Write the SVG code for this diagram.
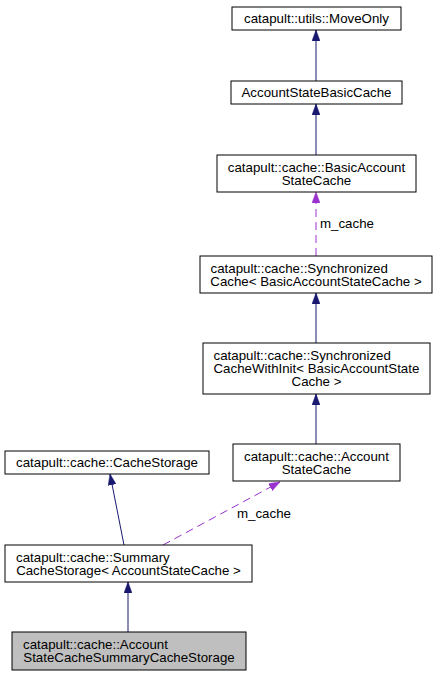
<svg xmlns="http://www.w3.org/2000/svg" width="439" height="676" viewBox="0 0 439 676">
<style>
.box{fill:#ffffff;stroke:#000000;stroke-width:1}
.cur{fill:#bfbfbf;stroke:#000000;stroke-width:1}
text{font-family:"Liberation Sans",Arial,sans-serif;font-size:13.3px;fill:#000000}
.c{text-anchor:middle}
.inh{stroke:#191970;stroke-width:1;fill:none;marker-end:url(#an)}
.use{stroke:#9a32cd;stroke-width:1;fill:none;stroke-dasharray:8,5;marker-end:url(#ap)}
</style>
<defs>
<marker id="an" markerUnits="userSpaceOnUse" markerWidth="11" markerHeight="8" refX="11" refY="4" orient="auto"><path d="M0,0 L11,4 L0,8 z" fill="#191970" stroke="#191970" stroke-width="0.5"/></marker>
<marker id="ap" markerUnits="userSpaceOnUse" markerWidth="11" markerHeight="8" refX="11" refY="4" orient="auto"><path d="M0,0 L11,4 L0,8 z" fill="#9a32cd" stroke="#9a32cd" stroke-width="0.5"/></marker>
</defs>
<g id="edges">
<line class="inh" x1="316" y1="81" x2="316" y2="30"/>
<line class="inh" x1="316" y1="155" x2="316" y2="104"/>
<line class="use" x1="316" y1="256" x2="316" y2="192"/>
<text x="320" y="228">m_cache</text>
<line class="inh" x1="316" y1="343" x2="316" y2="293"/>
<line class="inh" x1="316" y1="444" x2="316" y2="394"/>
<line class="inh" x1="124" y1="545" x2="110" y2="474"/>
<line class="use" x1="163" y1="545" x2="280" y2="482"/>
<text x="237" y="518">m_cache</text>
<line class="inh" x1="128" y1="632" x2="128" y2="582"/>
</g>
<g id="n_moveonly">
<rect class="box" x="232" y="7" width="169" height="23"/>
<text class="c" x="316.5" y="23">catapult::utils::MoveOnly</text>
</g>
<g id="n_basiccache">
<rect class="box" x="231" y="81" width="171" height="23"/>
<text class="c" x="316.5" y="97">AccountStateBasicCache</text>
</g>
<g id="n_basicaccountstatecache">
<rect class="box" x="217" y="155" width="199" height="37"/>
<text class="c" x="316.5" y="171.5">catapult::cache::BasicAccount</text>
<text class="c" x="316.5" y="184.5">StateCache</text>
</g>
<g id="n_synccache">
<rect class="box" x="200" y="256" width="232" height="37"/>
<text x="210.5" y="272.5">catapult::cache::Synchronized</text>
<text class="c" x="316" y="285.5">Cache&lt; BasicAccountStateCache &gt;</text>
</g>
<g id="n_syncinit">
<rect class="box" x="203" y="343" width="227" height="51"/>
<text x="213.5" y="359.5">catapult::cache::Synchronized</text>
<text x="213.5" y="372.5">CacheWithInit&lt; BasicAccountState</text>
<text class="c" x="316.5" y="385.5">Cache &gt;</text>
</g>
<g id="n_accountstatecache">
<rect class="box" x="233" y="444" width="167" height="37"/>
<text class="c" x="316.5" y="460.5">catapult::cache::Account</text>
<text class="c" x="316.5" y="473.5">StateCache</text>
</g>
<g id="n_cachestorage">
<rect class="box" x="5" y="451" width="204" height="23"/>
<text class="c" x="107" y="467">catapult::cache::CacheStorage</text>
</g>
<g id="n_summary">
<rect class="box" x="5" y="545" width="247" height="37"/>
<text x="16" y="561.5">catapult::cache::Summary</text>
<text class="c" x="128.5" y="574.5">CacheStorage&lt; AccountStateCache &gt;</text>
</g>
<g id="n_current">
<rect class="cur" x="12" y="632" width="234" height="38"/>
<text x="23" y="648.5">catapult::cache::Account</text>
<text class="c" x="129" y="661.5">StateCacheSummaryCacheStorage</text>
</g>
</svg>
